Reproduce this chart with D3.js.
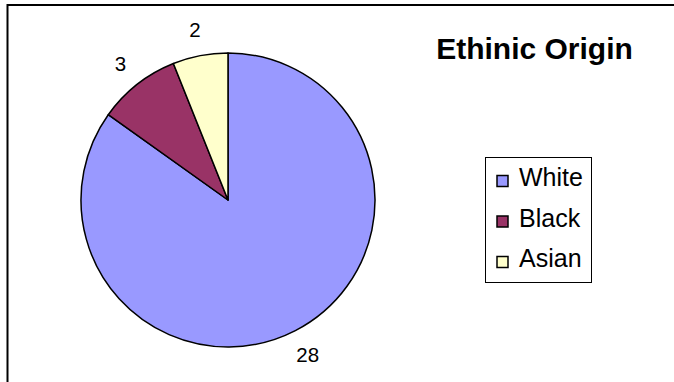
<!DOCTYPE html>
<html><head><meta charset="utf-8">
<script src="https://cdn.jsdelivr.net/npm/d3@7"></script>
<style>html,body{margin:0;padding:0;background:#fff;}svg{display:block;}</style>
</head><body>
<script>
const categories = ["White", "Black", "Asian"];
const values = [28, 3, 2];
const colors = ["#9999FF", "#993366", "#FFFFCC"];
const title = "Ethinic Origin";

const W = 674, H = 382;
const svg = d3.select("body").append("svg").attr("width", W).attr("height", H)
  .style("font-family", "Arial, 'Liberation Sans', sans-serif");

svg.append("rect").attr("x", 7.5).attr("y", 5).attr("width", 720).attr("height", 420)
  .attr("fill", "#fff").attr("stroke", "#000").attr("stroke-width", 2);

const cx = 228, cy = 200, r = 147;
const data = categories.map((c, i) => ({cat: c, value: values[i], color: colors[i]}));
const pie = d3.pie().value(d => d.value).sort(null);
const arcs = pie(data);
const arc = d3.arc().innerRadius(0).outerRadius(r);
const labelArc = d3.arc().innerRadius(174).outerRadius(174);

const g = svg.append("g").attr("transform", `translate(${cx},${cy})`);
g.selectAll("path").data(arcs).join("path")
  .attr("d", arc).attr("fill", d => d.data.color)
  .attr("stroke", "#000").attr("stroke-width", 1.5).attr("stroke-linejoin", "round");

g.selectAll("text").data(arcs).join("text")
  .attr("transform", d => `translate(${labelArc.centroid(d)})`)
  .attr("text-anchor", "middle").attr("dy", "0.36em")
  .attr("font-size", 20.5).attr("fill", "#000")
  .text(d => d.data.value);

svg.append("text").attr("x", 534.5).attr("y", 59).attr("text-anchor", "middle")
  .attr("font-size", 30).attr("font-weight", "bold").text(title);

// legend
svg.append("rect").attr("x", 485.5).attr("y", 157.5).attr("width", 106).attr("height", 125)
  .attr("fill", "#fff").attr("stroke", "#000").attr("stroke-width", 1);
const leg = svg.append("g");
const rows = leg.selectAll("g").data(data).join("g")
  .attr("transform", (d, i) => `translate(0,${i * 40.5})`);
rows.append("rect").attr("x", 497).attr("y", 175.5).attr("width", 11).attr("height", 11)
  .attr("fill", d => d.color).attr("stroke", "#000").attr("stroke-width", 1.5);
rows.append("text").attr("x", 519).attr("y", 186).attr("font-size", 25).text(d => d.cat);
</script>
</body></html>
